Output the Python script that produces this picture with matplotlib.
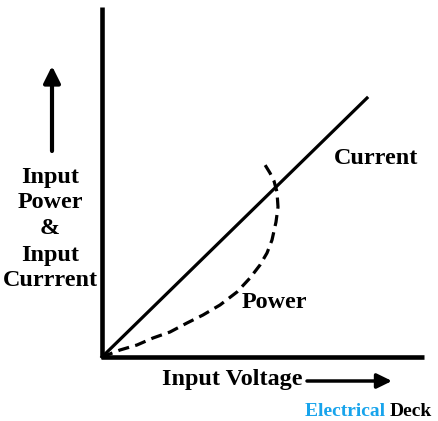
import matplotlib.pyplot as plt

# everything in image pixel units (origin top-left)
origin = (102, 357)
current_end = (367, 98)
power_x = [102, 120, 137, 153, 170, 187, 203, 220, 237, 250, 260, 267, 272, 276, 278, 277, 274, 270, 262]
power_y = [357, 350, 345, 338, 332, 323, 315, 305, 292, 278, 265, 253, 240, 222, 207, 192, 181, 173, 160]

ylabel_lines = ["Input", "Power", "&", "Input", "Currrent"]
ylabel_y = [178, 203, 229, 255, 280]

fig = plt.figure(figsize=(4.38, 4.21), dpi=100)
ax = fig.add_axes([0, 0, 1, 1])
ax.set_xlim(0, 438)
ax.set_ylim(421, 0)
ax.axis("off")

# axes lines
ax.plot([origin[0], origin[0]], [7, origin[1]], color="black", lw=3.3, solid_capstyle="butt")
ax.plot([origin[0] - 1.5, 424], [origin[1], origin[1]], color="black", lw=3.3, solid_capstyle="butt")

# current (straight) and power (dashed) curves
ax.plot([origin[0], current_end[0]], [origin[1], current_end[1]], color="black", lw=2.3)
ax.plot(power_x, power_y, color="black", lw=2.3, dashes=(3.5, 2))

font = dict(family="Liberation Serif", weight="bold", size=17.4)
ax.text(376, 158, "Current", ha="center", va="center", **font)
ax.text(274, 303, "Power", ha="center", va="center", **font)
ax.text(232, 380, "Input Voltage", ha="center", va="center", **font)
for txt, yy in zip(ylabel_lines, ylabel_y):
    ax.text(50, yy, txt, ha="center", va="center", **font)

# direction arrows
ax.annotate("", xy=(52, 66), xytext=(52, 151),
            arrowprops=dict(arrowstyle="-|>,head_width=0.25,head_length=0.5",
                            lw=3, color="black", mutation_scale=20, shrinkA=0, shrinkB=0))
ax.annotate("", xy=(392, 381), xytext=(307, 381),
            arrowprops=dict(arrowstyle="-|>,head_width=0.22,head_length=0.45",
                            lw=2.5, color="black", mutation_scale=20, shrinkA=0, shrinkB=0))

# watermark
ax.text(390, 411, "Electrical ", ha="right", va="center", color="#18a4ec",
        family="Liberation Serif", weight="bold", size=14)
ax.text(390, 411, "Deck", ha="left", va="center", color="black",
        family="Liberation Serif", weight="bold", size=14)

fig.savefig("out.png", dpi=100)
